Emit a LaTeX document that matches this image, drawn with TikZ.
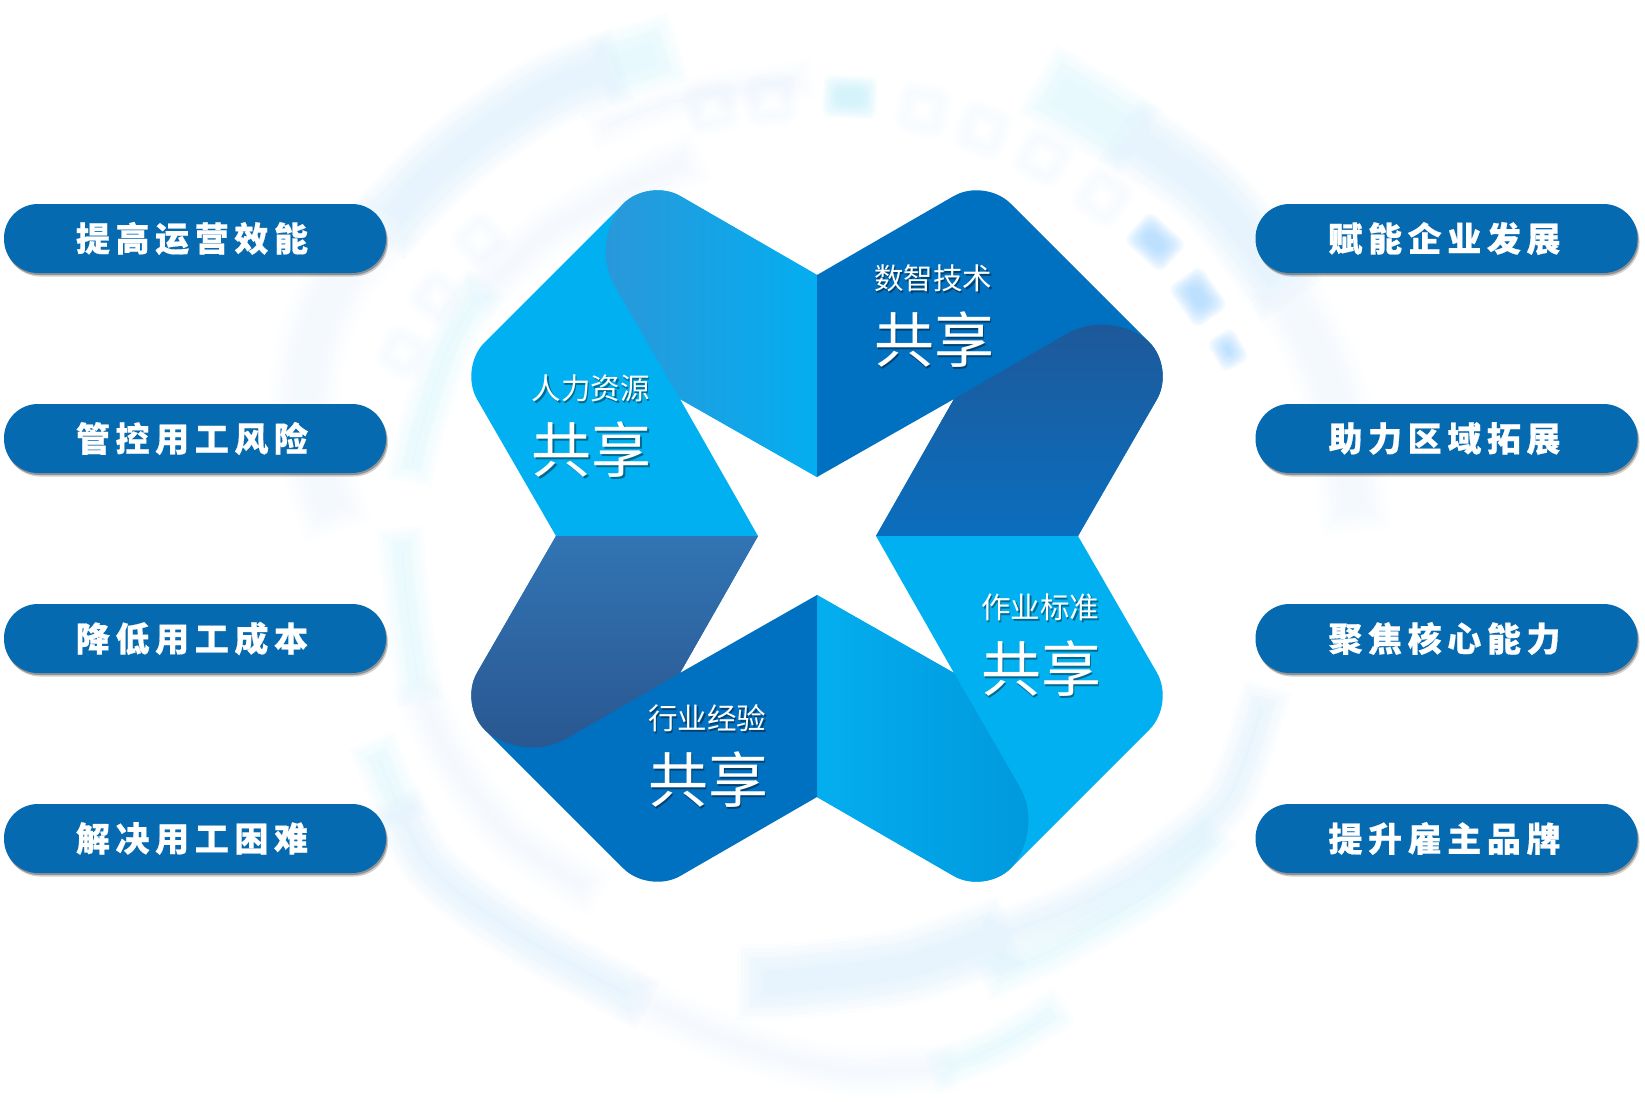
\documentclass[tikz,border=0pt]{standalone}
\usepackage{fontspec}
\usetikzlibrary{shadows}
\newfontfamily\cjkfont{Noto Sans CJK SC}
\newfontfamily\pillfont[LetterSpace=16.5,BoldFeatures={FakeBold=0.5}]{Noto Sans CJK SC}

\definecolor{petalsky}{HTML}{00B0F0}
\definecolor{petalnavy}{HTML}{0070C0}
\definecolor{pillblue}{HTML}{066AB1}
\definecolor{bandblue}{HTML}{D8EDFB}
\definecolor{bandcyan}{HTML}{D6F4FB}
\definecolor{bandpale}{HTML}{EDF4FD}
\definecolor{tileblue}{HTML}{98CFFF}
\definecolor{tilecyan}{HTML}{BDEDF9}
\definecolor{ringpale}{HTML}{F1F7FE}

\tikzstyle{pill} = [rounded corners=34pt,minimum width=382pt,minimum height=69pt,inner sep=0pt,
  fill=pillblue,text=white,font=\fontsize{34}{34}\pillfont\bfseries,
  drop shadow={shadow xshift=2pt,shadow yshift=-3.5pt,fill=black,opacity=.18},
  drop shadow={shadow xshift=1pt,shadow yshift=-2pt,fill=black,opacity=.3}]
\tikzstyle{toplabel} = [text=white,inner sep=0pt,font=\fontsize{29.5}{29.5}\cjkfont]
\tikzstyle{biglabel} = [text=white,inner sep=0pt,font=\fontsize{60}{60}\cjkfont]
\tikzstyle{flapsky} = [left color=flapskyL,right color=flapskyR]
\tikzstyle{flapnavy} = [top color=flapnavyT,bottom color=flapnavyB]
\tikzstyle{flapdeep} = [left color=flapdeepL,right color=flapdeepR]
\tikzstyle{flapslate} = [top color=flapslateT,bottom color=flapslateB]
\definecolor{flapskyL}{HTML}{2B97D9}
\definecolor{flapskyR}{HTML}{03AEF0}
\definecolor{flapnavyT}{HTML}{1E5898}
\definecolor{flapnavyB}{HTML}{0A6EBE}
\definecolor{flapdeepL}{HTML}{03AEEF}
\definecolor{flapdeepR}{HTML}{0098DD}
\definecolor{flapslateT}{HTML}{3274B4}
\definecolor{flapslateB}{HTML}{29568F}

% blurred looks, stacked from thin see-through strokes
\newcommand{\softband}[3]{%
  \foreach \blur in {13,9,5,1,-1,-5,-9,-13}
    {\draw[#1,opacity=.105,line width={max(#2+2*\blur,2)*1pt},shorten >={(0-(\blur))*1pt},shorten <={(0-(\blur))*1pt}] plot[smooth] coordinates {#3};}}
\newcommand{\softtile}[6]{%
  \foreach \blur in {8,6,4,2,0,-2,-4,-6}
    {\fill[#6,opacity=.12,shift={(#1,#2)},rotate=#3,rounded corners=8pt] (-#4-\blur,-#5-\blur) rectangle (#4+\blur,#5+\blur);}}
\newcommand{\softring}[5]{%
  \foreach \blur in {7,5,3,1,-1,-3}
    {\draw[#5,opacity=.12,line width={(9+2*\blur)*1pt},shift={(#1,#2)},rotate=#3,rounded corners=5pt] (-#4,-#4) rectangle (#4,#4);}}
\newcommand{\castshadow}[1]{\makebox[0pt][l]{\hspace{1.6pt}\raisebox{-1.8pt}{\pgfsetfillopacity{.4}\color{black}#1\pgfsetfillopacity{1}}}#1}

\begin{document}
\begin{tikzpicture}[x=1pt,y=-1pt]
    \useasboundingbox (0,0) rectangle (1645,1102);
    % background rings
    \softband{bandcyan}{46}{(666,50) (610,68)}
    \softband{bandblue}{50}{(610,68) (547,92) (480,135) (430,177) (385,225)}
    \softband{bandpale}{46}{(385,225) (340,280) (313,340) (305,420) (335,520)}
    \softband{bandpale}{14}{(800,80) (680,100) (600,128)}
    \softband{bandpale}{28}{(690,160) (630,187) (547,233) (480,293)}
    \softband{bandcyan}{20}{(480,293) (447,350) (420,433) (411,470)}
    \softband{bandcyan}{54}{(1048,85) (1090,110) (1130,135)}
    \softband{bandblue}{50}{(1130,135) (1216,200) (1285,290)}
    \softband{bandpale}{44}{(1285,290) (1325,370) (1345,440) (1355,520)}
    \softband{bandcyan}{20}{(401,540) (408,610) (419,691)}
    \softband{bandpale}{26}{(419,691) (458,770) (512,838) (590,890)}
    \softband{bandcyan}{22}{(376,752) (400,810)}
    \softband{bandblue}{30}{(400,810) (441,877) (530,941) (637,999)}
    \softband{bandpale}{24}{(637,999) (744,1045) (840,1070) (943,1068)}
    \softband{bandcyan}{16}{(943,1068) (1000,1045) (1054,1012)}
    \softband{bandblue}{50}{(750,982) (800,980) (907,966) (1000,935)}
    \softband{bandblue}{24}{(1000,935) (1090,900) (1157,860) (1228,798) (1264,698)}
    \softband{bandcyan}{20}{(994,975) (1068,941) (1157,888) (1212,838)}
    % tiles on the ring
    \foreach \x/\y/\turn/\halfw/\halfh/\tilecolor in {850/97/-3/19/13/tilecyan, 1155/242/-42/17/12/tileblue, 1198/297/-55/17/12/tileblue, 1228/350/-60/10/7/tileblue}
    {
        \softtile{\x}{\y}{\turn}{\halfw}{\halfh}{\tilecolor}
    };
    \foreach \x/\y/\turn/\side in {711/107/10/16, 771/100/3/16, 923/110/-12/16, 983/130/-20/16, 1043/157/-28/16, 1103/197/-35/16, 480/240/40/14, 437/297/52/14, 403/353/62/14}
    {
        \softring{\x}{\y}{\turn}{\side}{ringpale}
    };
    % petals, one quarter turned four times
    \foreach \turn/\basecolor/\flapstyle in {0/petalsky/flapsky, -90/petalnavy/flapnavy, -180/petalsky/flapdeep, -270/petalnavy/flapslate}
    {
        \begin{scope}[shift={(817,536)},rotate=\turn]
            \fill[\basecolor] (-261,0) [rounded corners=36pt] -- (-358,-168) -- (-168,-358) [sharp corners] -- (0,-261) -- (0,-59) -- (-137,-137) -- (-59,0) -- cycle;
            \shade[\flapstyle] (0,-261) -- (-136.8,-340) .. controls (-154,-349.9) and (-179.4,-346.6) .. (-193.5,-332.5) .. controls (-207.5,-318.5) and (-221,-282) .. (-202,-249.6) -- (-137,-137) -- (0,-59) -- cycle;
        \end{scope}
    };
    % labels on the petals
    \foreach \nodename/\x/\y/\title in {hr/590.5/389/人力资源, tech/933/279/数智技术, rule/1040/608/作业标准, trade/707/719/行业经验}
    {
        \node[toplabel] (\nodename) at (\x,\y) {\castshadow{\title}};
        \node[biglabel] (\nodename big) at (\x+1,\y+61.5) {\castshadow{共享}};
    };
    % pills
    \foreach \nodename/\y/\left/\right in {a/238.5/提高运营效能/赋能企业发展, b/438.5/管控用工风险/助力区域拓展, c/638.5/降低用工成本/聚焦核心能力, d/838.5/解决用工困难/提升雇主品牌}
    {
        \node[pill] (left\nodename) at (195,\y) {\raisebox{-.5pt}{\left}\kern6pt};
        \node[pill] (right\nodename) at (1446.5,\y) {\raisebox{-.5pt}{\right}\kern4pt};
    };
\end{tikzpicture}
\end{document}
